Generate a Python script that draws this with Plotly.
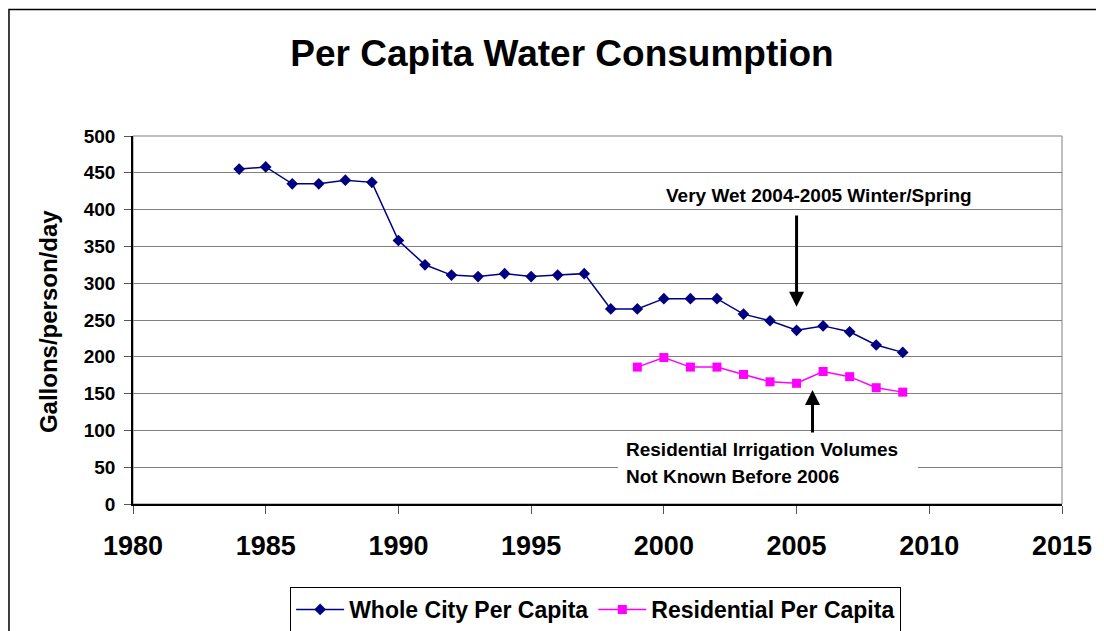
import plotly.graph_objects as go

# === data
years_city = list(range(1984, 2010))
city_per_capita = [455, 458, 435, 435, 440, 437, 358, 325, 311, 309, 313, 309, 311,
                   313, 265, 265, 279, 279, 279, 258, 249, 236, 242, 234, 216, 206]

years_res = list(range(1999, 2010))
res_per_capita = [186, 199, 186, 186, 176, 166, 164, 180, 173, 158, 152]

x_ticks = [1980, 1985, 1990, 1995, 2000, 2005, 2010, 2015]
y_ticks = list(range(0, 501, 50))

FONT = "Arial, Liberation Sans, sans-serif"

fig = go.Figure([
    go.Scatter(
        x=years_city, y=city_per_capita, mode="lines+markers",
        name="Whole City Per Capita",
        line=dict(color="#000080", width=1.5),
        marker=dict(symbol="diamond", size=9, color="#000080"),
    ),
    go.Scatter(
        x=years_res, y=res_per_capita, mode="lines+markers",
        name="Residential Per Capita",
        line=dict(color="#FF00FF", width=1.5),
        marker=dict(symbol="square", size=9, color="#FF00FF"),
    ),
])

# plot-area frame (gray) and the outer chart border
fig.add_shape(type="rect", xref="paper", yref="paper", x0=0, x1=1, y0=0, y1=1,
              line=dict(color="#808080", width=1), layer="below")
fig.add_shape(type="rect", xref="paper", yref="paper", x0=-0.1335, x1=1.2,
              y0=-0.5, y1=1.3438, line=dict(color="black", width=1.5), layer="below")

# white box behind the residential note
fig.add_shape(type="rect", xref="x", yref="y", x0=1998.27, x1=2009.57, y0=20, y1=86,
              fillcolor="white", line=dict(width=0), layer="above")

note_font = dict(family=FONT, size=19, color="black", weight="bold")
fig.add_annotation(x=2005.85, y=418.7, xref="x", yref="y", text="Very Wet 2004-2005 Winter/Spring",
                   showarrow=False, font=note_font)
fig.add_annotation(x=2005, y=268, ax=2005, ay=394, xref="x", yref="y", axref="x", ayref="y",
                   text="", showarrow=True, arrowhead=2, arrowsize=1, arrowwidth=3, arrowcolor="black")
fig.add_annotation(x=1998.5, y=74, xref="x", yref="y", text="Residential Irrigation Volumes",
                   showarrow=False, xanchor="left", font=note_font)
fig.add_annotation(x=1998.5, y=37.5, xref="x", yref="y", text="Not Known Before 2006",
                   showarrow=False, xanchor="left", font=note_font)
fig.add_annotation(x=2005.6, y=155, ax=2005.6, ay=95, xref="x", yref="y", axref="x", ayref="y",
                   text="", showarrow=True, arrowhead=2, arrowsize=1, arrowwidth=3, arrowcolor="black")

# y title placed by hand, like the original
fig.add_annotation(x=-0.0915, y=0.497, xref="paper", yref="paper", text="Gallons/person/day",
                   textangle=-90, showarrow=False, xanchor="center", yanchor="middle",
                   font=dict(family=FONT, size=24, color="black", weight="bold"))

fig.update_layout(
    width=1096, height=623,
    margin=dict(l=125, r=42, t=128, b=127, autoexpand=False),
    paper_bgcolor="white", plot_bgcolor="white",
    font=dict(family=FONT, color="black"),
    title=dict(text="Per Capita Water Consumption", x=0.5055, xanchor="center",
               y=0.928, yanchor="middle", yref="container",
               font=dict(family=FONT, size=37, color="black", weight="bold")),
    xaxis=dict(range=[1980, 2015], tickvals=x_ticks, showgrid=False, zeroline=False,
               showline=True, linecolor="black", linewidth=1.5,
               ticks="outside", ticklen=8, tickcolor="#555", tickwidth=1,
               ticklabelstandoff=9,
               tickfont=dict(family=FONT, size=27, color="black", weight="bold")),
    yaxis=dict(range=[0, 500], tickvals=y_ticks, showgrid=True, gridcolor="#808080",
               gridwidth=1, zeroline=False, showline=True, linecolor="black", linewidth=1.5,
               ticks="outside", ticklen=7, tickcolor="#555", tickwidth=1,
               ticklabelstandoff=5,
               tickfont=dict(family=FONT, size=19, color="black", weight="bold")),
    legend=dict(orientation="h", x=0.498, xanchor="center", y=-0.2255, yanchor="top",
                bordercolor="black", borderwidth=1, bgcolor="white", itemwidth=48,
                font=dict(family=FONT, size=23, color="black", weight="bold")),
)

fig.write_html("out.html")
